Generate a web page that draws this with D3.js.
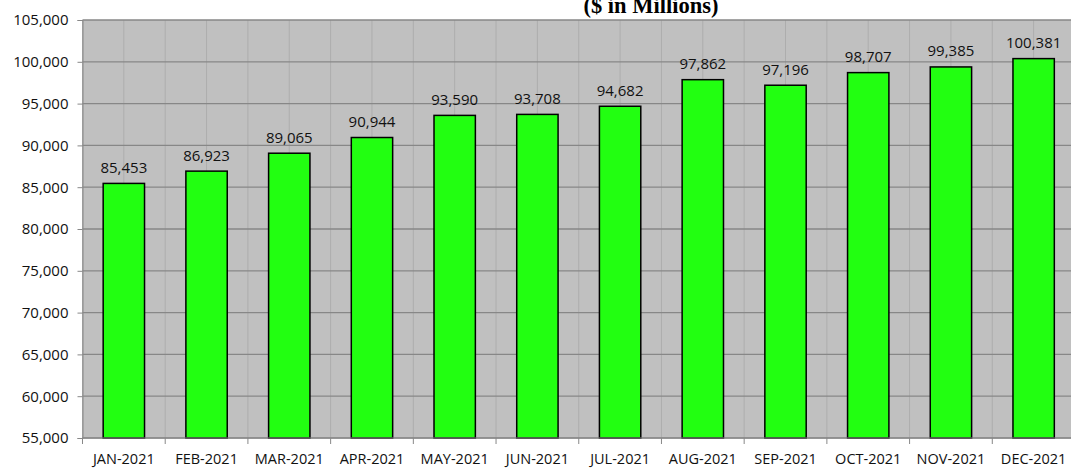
<!DOCTYPE html>
<html>
<head>
<meta charset="utf-8">
<script src="https://cdn.jsdelivr.net/npm/d3@7"></script>
<style>
  body { margin: 0; background: #fff; }
  svg { display: block; font-family: "Open Sans", sans-serif; }
</style>
</head>
<body>
<div id="chart"></div>
<script>
// Month labels and values ($ in millions)
var months = ['JAN-2021', 'FEB-2021', 'MAR-2021', 'APR-2021', 'MAY-2021', 'JUN-2021',
  'JUL-2021', 'AUG-2021', 'SEP-2021', 'OCT-2021', 'NOV-2021', 'DEC-2021'];
var values = [85453, 86923, 89065, 90944, 93590, 93708, 94682, 97862, 97196, 98707, 99385, 100381];
var yTicks = [55000, 60000, 65000, 70000, 75000, 80000, 85000, 90000, 95000, 100000, 105000];

function createChart() {
  var canvasWidth = 1071;
  var canvasHeight = 468;

  var margin = { top: 20, right: -4, left: 82.5, bottom: 30 };

  var w = canvasWidth - margin.left - margin.right;
  var h = canvasHeight - margin.top - margin.bottom;

  var svg = d3.select('#chart')
    .append('svg')
    .attr('width', canvasWidth)
    .attr('height', canvasHeight);

  // Title, partly cut off at the top like the original
  svg.append('text')
    .attr('x', 651)
    .attr('y', 12.5)
    .attr('text-anchor', 'middle')
    .style('font-family', '"Liberation Serif", "Times New Roman", serif')
    .style('font-weight', 'bold')
    .style('font-size', '22.5px')
    .text('($ in Millions)');

  var inner = svg.append('g')
    .attr('transform', 'translate(' + margin.left + ',' + margin.top + ')');

  return [inner, w, h];
}

function renderChart(g, w, h) {
  var x = d3.scaleBand()
    .domain(months)
    .range([0, w])
    .paddingInner(0.5)
    .paddingOuter(0.25);

  var y = d3.scaleLinear()
    .domain([55000, 105000])
    .range([h, 0]);

  var step = x.step();

  // Plot background
  g.append('rect')
    .attr('width', w)
    .attr('height', h)
    .style('fill', '#c0c0c0');

  // Vertical gridlines at category edges and centres
  var vLines = [];
  months.forEach((m, i) => {
    vLines.push(i * step);
    vLines.push(i * step + step / 2);
  });
  g.selectAll('line.vgrid')
    .data(vLines)
    .enter()
    .append('line')
    .attr('class', 'vgrid')
    .attr('x1', d => d).attr('x2', d => d)
    .attr('y1', 0).attr('y2', h)
    .style('stroke', '#adadad')
    .style('stroke-width', 1);

  // Horizontal gridlines
  g.selectAll('line.hgrid')
    .data(yTicks)
    .enter()
    .append('line')
    .attr('class', 'hgrid')
    .attr('x1', 0).attr('x2', w)
    .attr('y1', d => y(d)).attr('y2', d => y(d))
    .style('stroke', '#878787')
    .style('stroke-width', 1.3);

  // Bars
  g.selectAll('rect.bar')
    .data(values)
    .enter()
    .append('rect')
    .attr('class', 'bar')
    .attr('x', (d, i) => x(months[i]))
    .attr('y', d => y(d))
    .attr('width', x.bandwidth())
    .attr('height', d => h - y(d))
    .style('fill', '#22ff11')
    .style('stroke', '#000')
    .style('stroke-width', 1.5);

  // Value labels
  g.selectAll('text.value')
    .data(values)
    .enter()
    .append('text')
    .attr('class', 'value')
    .attr('x', (d, i) => x(months[i]) + x.bandwidth() / 2)
    .attr('y', d => y(d) - 10.5)
    .attr('text-anchor', 'middle')
    .style('font-size', '15px')
    .style('fill', '#111')
    .text(d => d3.format(',')(d));

  // Y axis
  var yAxis = d3.axisLeft(y)
    .tickValues(yTicks)
    .tickFormat(d3.format(','))
    .tickSize(5)
    .tickPadding(9);

  var ya = g.append('g').call(yAxis);
  ya.select('.domain').style('stroke', '#888');
  ya.selectAll('.tick line').style('stroke', '#888');
  ya.selectAll('.tick text')
    .style('font-size', '15px')
    .style('font-family', '"Open Sans", sans-serif')
    .style('fill', '#111');

  // X axis: ticks at category boundaries, labels centred
  var xa = g.append('g').attr('transform', 'translate(0,' + h + ')');
  xa.append('line')
    .attr('x1', 0).attr('x2', w)
    .style('stroke', '#888');
  xa.selectAll('line.xtick')
    .data(d3.range(months.length + 1))
    .enter()
    .append('line')
    .attr('class', 'xtick')
    .attr('x1', i => i * step).attr('x2', i => i * step)
    .attr('y1', 0).attr('y2', 6)
    .style('stroke', '#888');
  xa.selectAll('text')
    .data(months)
    .enter()
    .append('text')
    .attr('x', d => x(d) + x.bandwidth() / 2)
    .attr('y', 26)
    .attr('text-anchor', 'middle')
    .style('font-size', '14.5px')
    .style('fill', '#111')
    .text(d => d);
}

var chart = createChart();
renderChart(chart[0], chart[1], chart[2]);
</script>
</body>
</html>
